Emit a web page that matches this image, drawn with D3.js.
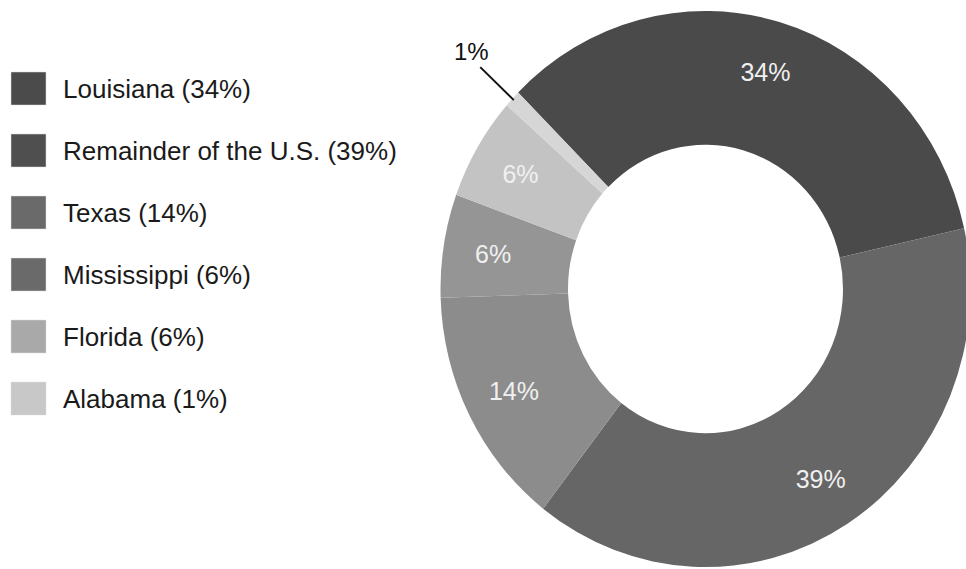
<!DOCTYPE html>
<html>
<head>
<meta charset="utf-8">
<script src="https://cdn.jsdelivr.net/npm/d3@7"></script>
<style>
  body { margin: 0; background: #fff; }
  svg { display: block; font-family: "Liberation Sans", Arial, sans-serif; }
</style>
</head>
<body>
<div id="chart"></div>
<script>
// data
const states = ["Louisiana", "Remainder of the U.S.", "Texas", "Mississippi", "Florida", "Alabama"];
const shares = [34, 39, 14, 6, 6, 1];
const sliceColors = ["#4a4a4a", "#666666", "#8c8c8c", "#959595", "#c3c3c3", "#d6d6d6"];
const legendColors = ["#4b4b4b", "#4f4f4f", "#6a6a6a", "#6a6a6a", "#a9a9a9", "#c8c8c8"];

const width = 966, height = 569;
const svg = d3.select("#chart").append("svg")
    .attr("width", width)
    .attr("height", height);

const data = states.map((s, i) => ({ name: s, value: shares[i], color: sliceColors[i], legend: legendColors[i] }));

// donut, slightly stretched vertically as in the source image
const cx = 705.5, cy = 289, rOuter = 265, rInner = 137.5, yStretch = 1.049;
const pie = d3.pie()
    .value(d => d.value)
    .sort(null)
    .startAngle(-Math.PI / 4)
    .endAngle(2 * Math.PI - Math.PI / 4);
const arcs = pie(data);
const arc = d3.arc().innerRadius(rInner).outerRadius(rOuter);

const g = svg.append("g")
    .attr("transform", `translate(${cx},${cy}) scale(1,${yStretch})`);

g.selectAll("path")
    .data(arcs)
    .enter()
    .append("path")
    .attr("d", arc)
    .attr("fill", d => d.data.color);

// labels inside the ring
const labelArc = d3.arc().innerRadius(215).outerRadius(215);
const lbl = svg.append("g").attr("transform", `translate(${cx},${cy})`);
lbl.selectAll("text")
    .data(arcs.filter(d => d.data.value > 2))
    .enter()
    .append("text")
    .attr("x", d => labelArc.centroid(d)[0])
    .attr("y", d => labelArc.centroid(d)[1] * yStretch)
    .attr("text-anchor", "middle")
    .attr("dominant-baseline", "central")
    .attr("fill", "#f0f0f0")
    .attr("font-size", 25)
    .text(d => d.data.value + "%");

// small slice gets an outside label with a leader line
const small = arcs[arcs.length - 1];
const mid = (small.startAngle + small.endAngle) / 2;
const p0 = [Math.sin(mid) * (rOuter - 2), -Math.cos(mid) * (rOuter - 2) * yStretch];
const p1 = [Math.sin(mid) * (rOuter + 44), -Math.cos(mid) * (rOuter + 44) * yStretch];
lbl.append("line")
    .attr("x1", p0[0]).attr("y1", p0[1])
    .attr("x2", p1[0]).attr("y2", p1[1])
    .attr("stroke", "#111")
    .attr("stroke-width", 2);
lbl.append("text")
    .attr("x", p1[0] - 9)
    .attr("y", p1[1] - 7)
    .attr("text-anchor", "middle")
    .attr("fill", "#111")
    .attr("font-size", 24)
    .text(small.data.value + "%");

// legend
const legend = svg.append("g").attr("transform", "translate(11,72)");
const rows = legend.selectAll("g")
    .data(data)
    .enter()
    .append("g")
    .attr("transform", (d, i) => `translate(0,${i * 62})`);
rows.append("rect")
    .attr("width", 35)
    .attr("height", 33)
    .attr("fill", d => d.legend)
    .attr("stroke", "#ddd")
    .attr("stroke-width", 0.5);
rows.append("text")
    .attr("x", 52)
    .attr("y", 17)
    .attr("dominant-baseline", "central")
    .attr("font-size", 26)
    .attr("fill", "#1a1a1a")
    .text(d => `${d.name} (${d.value}%)`);
</script>
</body>
</html>
